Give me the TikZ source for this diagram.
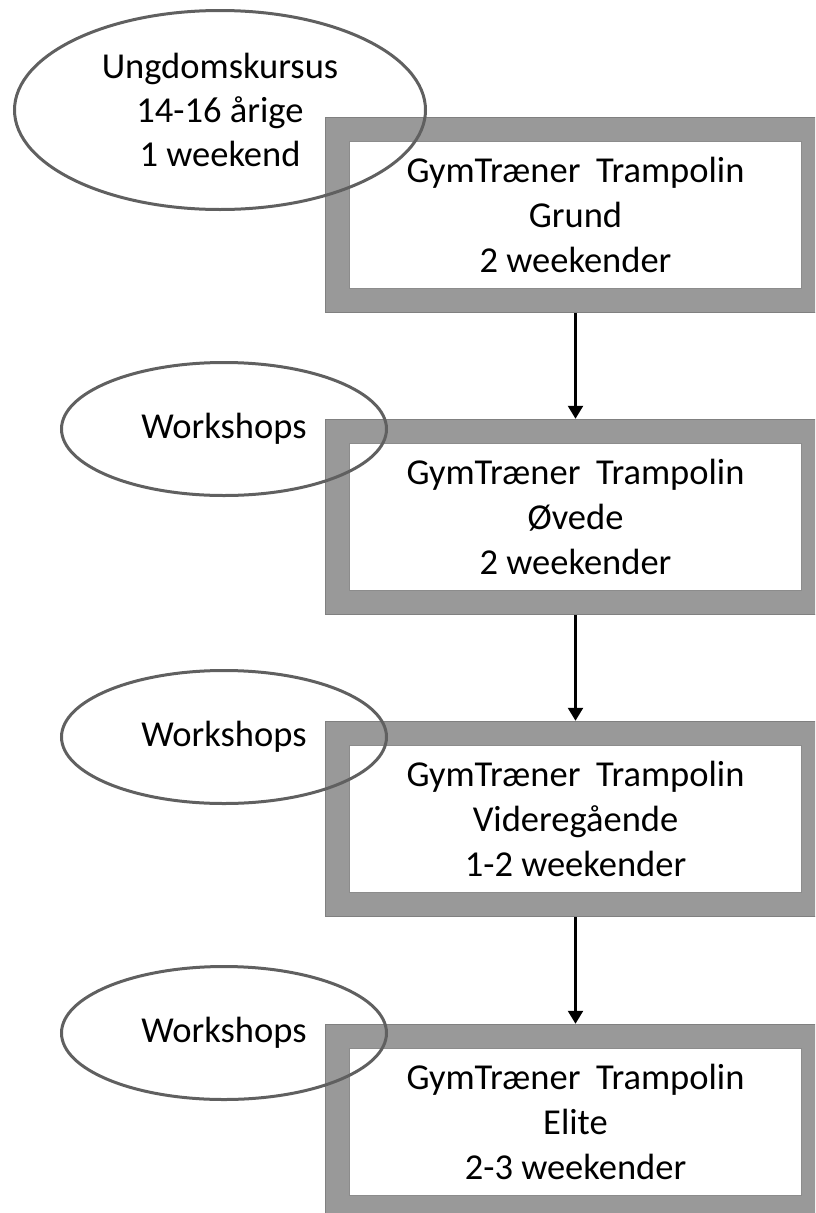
\documentclass[tikz,border=0pt]{standalone}
\usepackage{fontspec}
\setmainfont{Carlito}
\usetikzlibrary{arrows.meta,shapes.geometric}
\definecolor{framegray}{RGB}{153,153,153}
\definecolor{frameedge}{RGB}{128,128,128}
\definecolor{inneredge}{RGB}{140,140,140}
\definecolor{ovaledge}{RGB}{96,96,96}
\begin{document}
\begin{tikzpicture}[x=1pt,y=-1pt,
  outerbox/.style={rectangle, fill=framegray, draw=frameedge, line width=1.5pt, minimum width=500pt, minimum height=195pt, inner sep=0pt},
  innerbox/.style={rectangle, fill=white, draw=inneredge, line width=1.5pt, minimum width=452pt, minimum height=147pt, inner sep=0pt, align=center, font=\fontsize{36.5}{45}\selectfont},
  oval/.style={ellipse, draw=ovaledge, line width=3pt, inner sep=0pt, align=center, font=\fontsize{36.5}{44}\selectfont},
  flow/.style={-{Triangle[width=15pt,length=13pt]}, line width=2.5pt, draw=black}]
\useasboundingbox (0,0) rectangle (815,1213);
\clip (0,0) rectangle (815,1213);
% frames
\node[outerbox] (o1) at (575.5,215) {};
\node[innerbox] (b1) at (575.5,215) {GymTræner\hspace{0.2em} Trampolin\\Grund\\2 weekender};
\node[outerbox] (o2) at (575.5,517) {};
\node[innerbox] (b2) at (575.5,517) {GymTræner\hspace{0.2em} Trampolin\\Øvede\\2 weekender};
\node[outerbox] (o3) at (575.5,819) {};
\node[innerbox] (b3) at (575.5,819) {GymTræner\hspace{0.2em} Trampolin\\Videregående\\1-2 weekender};
\node[outerbox] (o4) at (575.5,1122) {};
\node[innerbox] (b4) at (575.5,1122) {GymTræner\hspace{0.2em} Trampolin\\Elite\\2-3 weekender};
% ovals
\node[oval, minimum width=411pt, minimum height=199pt] (u) at (220,110) {Ungdomskursus\\14-16 årige\\1 weekend};
\node[oval, minimum width=325pt, minimum height=133pt] (w1) at (224,429) {Workshops};
\node[oval, minimum width=325pt, minimum height=133pt] (w2) at (224,737) {Workshops};
\node[oval, minimum width=325pt, minimum height=133pt] (w3) at (224,1033) {Workshops};
% arrows
\draw[flow] (o1.south) -- (o2.north);
\draw[flow] (o2.south) -- (o3.north);
\draw[flow] (o3.south) -- (o4.north);
\end{tikzpicture}
\end{document}
